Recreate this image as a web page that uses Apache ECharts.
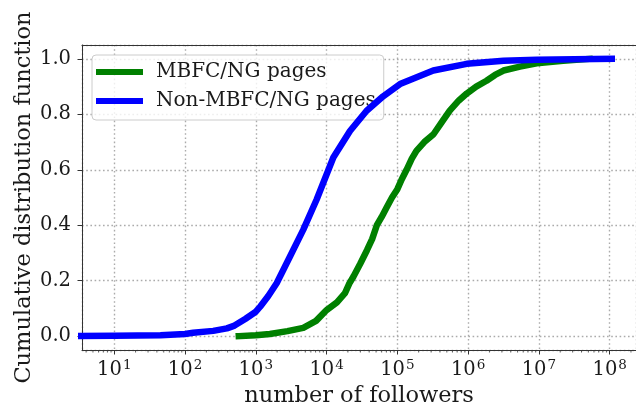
<!DOCTYPE html>
<html>
<head>
<meta charset="utf-8">
<script src="https://cdn.jsdelivr.net/npm/echarts@6/dist/echarts.min.js"></script>
<style>
  html, body { margin: 0; padding: 0; background: #ffffff; }
  #chart { width: 636px; height: 409px; }
</style>
</head>
<body>
<div id="chart"></div>
<script>
// Empirical CDF of page follower counts: [followers, cumulative fraction]
const seriesNames = ['MBFC/NG pages', 'Non-MBFC/NG pages'];

const mbfcPages = [
  [575, 0.0], [1000, 0.003], [1580, 0.008], [2800, 0.018], [4680, 0.03],
  [7100, 0.055], [10000, 0.094], [14000, 0.122], [18200, 0.155], [21000, 0.19],
  [24000, 0.215], [30000, 0.262], [37200, 0.31], [44000, 0.35], [51300, 0.40],
  [60000, 0.43], [70800, 0.465], [84000, 0.50], [100000, 0.53], [115000, 0.565],
  [135000, 0.60], [160000, 0.64], [186000, 0.668], [240000, 0.70], [324000, 0.728],
  [420000, 0.77], [550000, 0.813], [740000, 0.85], [955000, 0.875], [1300000, 0.90],
  [1820000, 0.921], [2400000, 0.942], [3160000, 0.958], [5400000, 0.972],
  [9300000, 0.984], [22000000, 0.993], [52000000, 1.0]
];

const otherPages = [
  [1, 0.0], [10, 0.001], [45, 0.003], [100, 0.008], [130, 0.012], [250, 0.019],
  [390, 0.028], [500, 0.038], [708, 0.062], [1000, 0.088], [1150, 0.106],
  [1500, 0.145], [1970, 0.191], [3040, 0.287], [4690, 0.384], [7240, 0.493],
  [12450, 0.644], [21400, 0.74], [36800, 0.813], [63000, 0.865], [109000, 0.909],
  [322000, 0.958], [955000, 0.982], [3160000, 0.993], [9300000, 0.997],
  [31600000, 0.999], [107000000, 1.0]
];

const yTickLabels = ['0.0', '0.2', '0.4', '0.6', '0.8', '1.0'];
const xDecades = [1, 2, 3, 4, 5, 6, 7, 8];

const xMin = Math.pow(10, 0.544);
const xMax = Math.pow(10, 8.372);
const yMin = -0.05;
const yMax = 1.05;

// minor log ticks (2..9 x 10^k) that fall inside the axis range
const minorTicks = [];
for (let k = 0; k <= 8; k++) {
  for (let m = 2; m <= 9; m++) {
    const v = m * Math.pow(10, k);
    if (v > xMin && v < xMax) minorTicks.push([v, 0]);
  }
}

const FONT = 'DejaVu Serif';
const TEXT = '#1a1a1a';
const SPINE = '#333333';
const GRIDLINE = { color: '#ababab', width: 1.4, type: [1.6, 2.6] };

const chart = echarts.init(document.getElementById('chart'), null, { renderer: 'canvas' });

chart.setOption({
  animation: false,
  backgroundColor: '#ffffff',
  grid: { left: 82, top: 45, right: 0, bottom: 59, outerBoundsMode: 'none' },
  legend: {
    data: seriesNames,
    orient: 'vertical',
    left: 92, top: 55,
    icon: 'rect',
    itemWidth: 47, itemHeight: 6,
    itemGap: 7,
    padding: [6, 8, 8, 4],
    backgroundColor: 'rgba(255,255,255,0.8)',
    borderColor: '#cccccc', borderWidth: 1, borderRadius: 4,
    textStyle: { fontFamily: FONT, fontSize: 20, color: TEXT, lineHeight: 22, padding: [0, 0, 0, 8] }
  },
  xAxis: [
    {
      type: 'log',
      logBase: 10,
      min: xMin, max: xMax,
      name: 'number of followers',
      nameLocation: 'middle',
      nameGap: 22,
      nameTextStyle: { fontFamily: FONT, fontSize: 22.5, color: TEXT },
      axisLine: { show: true, onZero: false, lineStyle: { color: SPINE, width: 1 } },
      axisTick: { show: true, length: 4.5, lineStyle: { color: SPINE, width: 1 } },
      axisLabel: {
        showMinLabel: false, showMaxLabel: false,
        margin: 8,
        formatter: function (v) {
          const e = Math.round(Math.log10(v));
          if (xDecades.indexOf(e) < 0) return '';
          return '{b|10}{s|' + e + '}';
        },
        rich: {
          b: { fontFamily: FONT, fontSize: 19.5, color: TEXT, lineHeight: 22, verticalAlign: 'bottom' },
          s: { fontFamily: FONT, fontSize: 13.5, color: TEXT, lineHeight: 22, verticalAlign: 'top', padding: [0, 0, 0, 1] }
        }
      },
      splitLine: { show: true, lineStyle: GRIDLINE },
      minorTick: { show: false }
    },
    {
      // top spine
      type: 'log',
      logBase: 10,
      min: xMin, max: xMax,
      position: 'top',
      axisLine: { show: true, onZero: false, lineStyle: { color: SPINE, width: 1 } },
      axisTick: { show: false },
      axisLabel: { show: false },
      splitLine: { show: false }
    }
  ],
  yAxis: {
    type: 'value',
    min: yMin, max: yMax,
    minInterval: 0.2, maxInterval: 0.2,
    name: 'Cumulative distribution function',
    nameLocation: 'middle',
    nameGap: 46,
    nameMoveOverlap: false,
    nameTextStyle: { fontFamily: FONT, fontSize: 22.5, color: TEXT },
    axisLine: { show: true, onZero: false, lineStyle: { color: SPINE, width: 1 } },
    axisTick: { show: true, length: 4.5, lineStyle: { color: SPINE, width: 1 } },
    axisLabel: {
      showMinLabel: false, showMaxLabel: false,
      margin: 11,
      fontFamily: FONT, fontSize: 19.5, color: TEXT,
      formatter: function (v) {
        const s = v.toFixed(1);
        return yTickLabels.indexOf(s) >= 0 && Math.abs(v - parseFloat(s)) < 1e-6 ? s : '';
      }
    },
    splitLine: { show: true, lineStyle: GRIDLINE }
  },
  series: [
    {
      name: seriesNames[0],
      type: 'line',
      data: mbfcPages,
      showSymbol: false,
      color: '#008000',
      lineStyle: { width: 6.5, color: '#008000', cap: 'square', join: 'round' },
      z: 3
    },
    {
      name: seriesNames[1],
      type: 'line',
      data: otherPages,
      showSymbol: false,
      color: '#0000ff',
      lineStyle: { width: 6.5, color: '#0000ff', cap: 'square', join: 'round' },
      z: 4
    },
    {
      name: 'minorTicks',
      type: 'custom',
      data: minorTicks,
      silent: true,
      z: 5,
      renderItem: function (params, api) {
        const pt = api.coord([api.value(0), yMin]);
        const base = params.coordSys.y + params.coordSys.height;
        return {
          type: 'line',
          shape: { x1: pt[0], y1: base, x2: pt[0], y2: base + 2.5 },
          style: { stroke: SPINE, lineWidth: 0.8 }
        };
      }
    }
  ]
});
</script>
</body>
</html>
